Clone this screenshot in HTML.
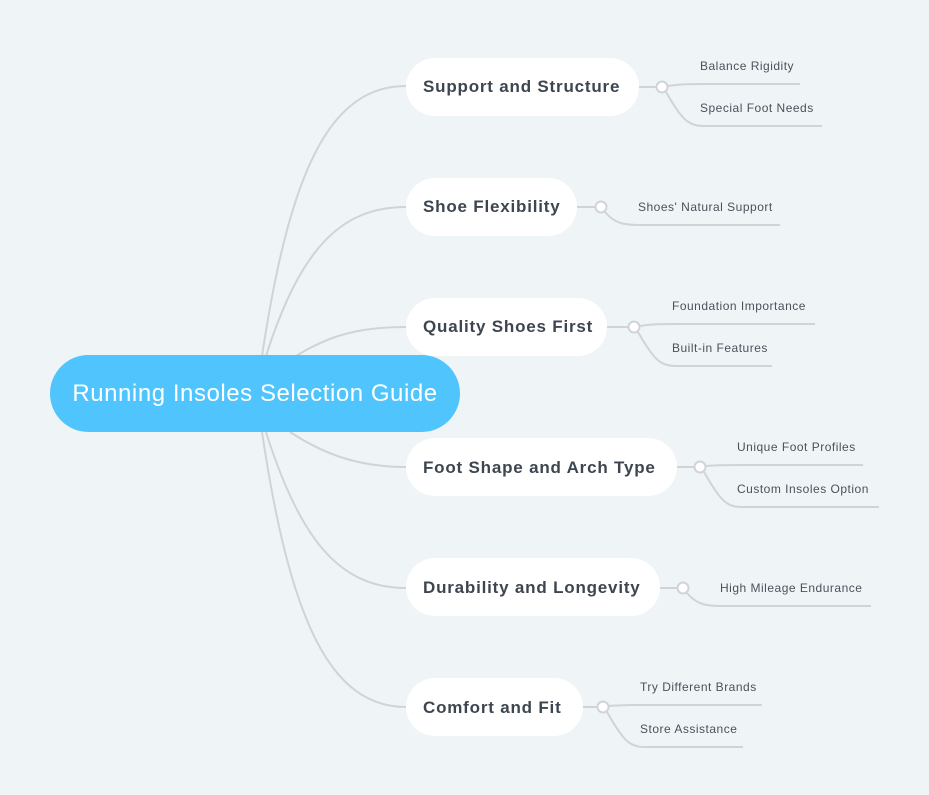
<!DOCTYPE html>
<html><head><meta charset="utf-8"><style>
html,body{margin:0;padding:0;background:#eff4f7;}
svg{display:block;}
.n{font-family:"Liberation Sans",sans-serif;font-weight:bold;font-size:17px;fill:#3d4650;letter-spacing:0.8px;}
.c{font-family:"Liberation Sans",sans-serif;font-size:12px;fill:#4a525a;letter-spacing:0.5px;}
.l{fill:none;stroke:#d0d4d8;stroke-width:2;}
</style></head><body>
<svg width="929" height="795" viewBox="0 0 929 795">
<rect width="929" height="795" fill="#eff4f7"/>
<path class="l" d="M262,356 C290,170 330,86 406,86"/>
<path class="l" d="M266,356 C300,250 340,207 406,207"/>
<path class="l" d="M296,356 C330,335 360,327 406,327"/>
<path class="l" d="M290,432 C325,455 360,467 406,467"/>
<path class="l" d="M266,432 C300,540 340,588 406,588"/>
<path class="l" d="M262,432 C290,620 330,707 406,707"/>
<rect x="50" y="355" width="410" height="77" rx="38.5" fill="#50c4fd"/>
<text x="255" y="401" text-anchor="middle" font-family="Liberation Sans,sans-serif" font-size="24" letter-spacing="0.55" fill="#fff">Running Insoles Selection Guide</text>

<rect x="406" y="58" width="233" height="58" rx="29" fill="#fff"/>
<text class="n" x="423" y="92">Support and Structure</text>
<path class="l" d="M639,87 L656,87"/>
<path class="l" d="M668,86 C680,84 690,84 705,84 L800,84"/>
<path class="l" d="M666,92 C682,120 688,126 705,126 L822,126"/>
<circle cx="662" cy="87" r="5.5" fill="#fff" stroke="#d0d4d8" stroke-width="2"/>
<text class="c" x="700" y="70">Balance Rigidity</text>
<text class="c" x="700" y="112">Special Foot Needs</text>

<rect x="406" y="178" width="171" height="58" rx="29" fill="#fff"/>
<text class="n" x="423" y="212">Shoe Flexibility</text>
<path class="l" d="M577,207 L595,207"/>
<path class="l" d="M605,212 C615,224 625,225 640,225 L780,225"/>
<circle cx="601" cy="207" r="5.5" fill="#fff" stroke="#d0d4d8" stroke-width="2"/>
<text class="c" x="638" y="211">Shoes' Natural Support</text>

<rect x="406" y="298" width="201" height="58" rx="29" fill="#fff"/>
<text class="n" x="423" y="332">Quality Shoes First</text>
<path class="l" d="M607,327 L628,327"/>
<path class="l" d="M640,326 C652,324 660,324 677,324 L815,324"/>
<path class="l" d="M638,332 C654,360 660,366 677,366 L772,366"/>
<circle cx="634" cy="327" r="5.5" fill="#fff" stroke="#d0d4d8" stroke-width="2"/>
<text class="c" x="672" y="310">Foundation Importance</text>
<text class="c" x="672" y="352">Built-in Features</text>

<rect x="406" y="438" width="271" height="58" rx="29" fill="#fff"/>
<text class="n" x="423" y="473">Foot Shape and Arch Type</text>
<path class="l" d="M677,467 L694,467"/>
<path class="l" d="M706,466 C718,465 725,465 742,465 L863,465"/>
<path class="l" d="M704,472 C720,500 726,507 742,507 L879,507"/>
<circle cx="700" cy="467" r="5.5" fill="#fff" stroke="#d0d4d8" stroke-width="2"/>
<text class="c" x="737" y="451">Unique Foot Profiles</text>
<text class="c" x="737" y="493">Custom Insoles Option</text>

<rect x="406" y="558" width="254" height="58" rx="29" fill="#fff"/>
<text class="n" x="423" y="593">Durability and Longevity</text>
<path class="l" d="M660,588 L677,588"/>
<path class="l" d="M687,593 C697,605 707,606 722,606 L871,606"/>
<circle cx="683" cy="588" r="5.5" fill="#fff" stroke="#d0d4d8" stroke-width="2"/>
<text class="c" x="720" y="592">High Mileage Endurance</text>

<rect x="406" y="678" width="177" height="58" rx="29" fill="#fff"/>
<text class="n" x="423" y="713">Comfort and Fit</text>
<path class="l" d="M583,707 L597,707"/>
<path class="l" d="M609,706 C621,705 628,705 645,705 L762,705"/>
<path class="l" d="M607,712 C623,740 629,747 645,747 L743,747"/>
<circle cx="603" cy="707" r="5.5" fill="#fff" stroke="#d0d4d8" stroke-width="2"/>
<text class="c" x="640" y="691">Try Different Brands</text>
<text class="c" x="640" y="733">Store Assistance</text>
</svg>
</body></html>
